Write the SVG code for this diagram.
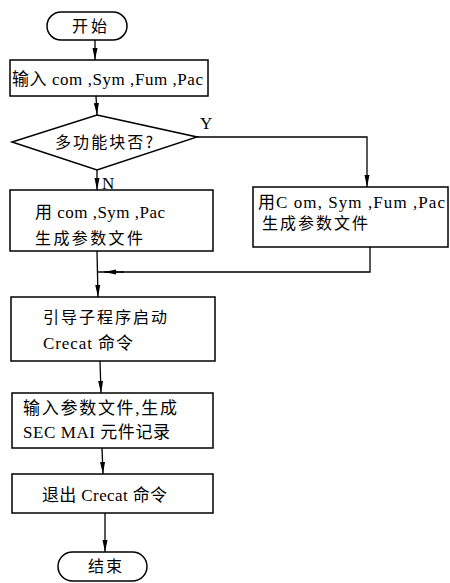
<svg xmlns="http://www.w3.org/2000/svg" width="450" height="583" viewBox="0 0 450 583">
<style>
.box{fill:#fff;stroke:#000;stroke-width:1.5}
.ln{fill:none;stroke:#000;stroke-width:1.3}
.t{font-family:"Liberation Serif","Noto Sans CJK SC",serif;font-size:17px;fill:#000}
.c{font-family:"Noto Sans CJK SC","Liberation Sans",sans-serif;font-size:16px;fill:#000}
</style>
<defs>
<marker id="arr" markerUnits="userSpaceOnUse" markerWidth="12" markerHeight="6" refX="12" refY="3" orient="auto">
<path d="M0,0.5 L12,3 L0,5.5 z" fill="#000"/>
</marker>
</defs>
<rect width="450" height="583" fill="#fff"/>
<g id="connectors">
<path class="ln" d="M95,40 L95,60" marker-end="url(#arr)"/>
<path class="ln" d="M96,96 L97,115" marker-end="url(#arr)"/>
<path class="ln" d="M197,137 L367,137 L367,187" marker-end="url(#arr)"/>
<path class="ln" d="M97,170 L97,190" marker-end="url(#arr)"/>
<path class="ln" d="M370,247 L370,272 L97,272"/>
<path class="ln" d="M124,272 L104,272" marker-end="url(#arr)"/>
<path class="ln" d="M97,251 L98,297" marker-end="url(#arr)"/>
<path class="ln" d="M100,361 L101,393" marker-end="url(#arr)"/>
<path class="ln" d="M102,448 L103,474" marker-end="url(#arr)"/>
<path class="ln" d="M105,513 L105,552" marker-end="url(#arr)"/>
<text class="t" x="200" y="129">Y</text>
<text class="t" x="102" y="189">N</text>
</g>
<g id="start">
<rect class="box" x="47" y="12" width="80" height="28" rx="14"/>
<text class="c" x="72" y="32" textLength="35" lengthAdjust="spacing">开始</text>
</g>
<g id="input">
<rect class="box" x="10" y="60" width="198" height="36"/>
<text class="t" x="12" y="85" textLength="191" lengthAdjust="spacing">输入 com ,Sym ,Fum ,Pac</text>
</g>
<g id="decision">
<polygon class="box" points="97,115 197,137 97,170 12,142"/>
<text class="c" x="55" y="148" textLength="98" lengthAdjust="spacing">多功能块否?</text>
</g>
<g id="genN">
<rect class="box" x="10" y="190" width="203" height="61"/>
<text class="t" x="35" y="218" textLength="130" lengthAdjust="spacing">用 com ,Sym ,Pac</text>
<text class="c" x="35" y="244" textLength="108" lengthAdjust="spacing">生成参数文件</text>
</g>
<g id="genY">
<rect class="box" x="253" y="187" width="195" height="60"/>
<text class="t" x="258" y="208" textLength="187" lengthAdjust="spacing">用C om, Sym ,Fum ,Pac</text>
<text class="c" x="262" y="229" textLength="106" lengthAdjust="spacing">生成参数文件</text>
</g>
<g id="boot">
<rect class="box" x="11" y="297" width="204" height="64"/>
<text class="c" x="43" y="323" textLength="124" lengthAdjust="spacing">引导子程序启动</text>
<text class="t" x="43" y="349" textLength="90" lengthAdjust="spacing">Crecat 命令</text>
</g>
<g id="record">
<rect class="box" x="12" y="393" width="201" height="55"/>
<text class="t" x="23" y="414" textLength="154" lengthAdjust="spacing">输入参数文件,生成</text>
<text class="t" x="23" y="438" textLength="147" lengthAdjust="spacing">SEC MAI 元件记录</text>
</g>
<g id="exit">
<rect class="box" x="12" y="474" width="201" height="39"/>
<text class="t" x="42" y="501" textLength="125" lengthAdjust="spacing">退出 Crecat 命令</text>
</g>
<g id="end">
<rect class="box" x="58" y="552" width="89" height="29" rx="14.5"/>
<text class="c" x="88" y="572" textLength="34" lengthAdjust="spacing">结束</text>
</g>
</svg>
